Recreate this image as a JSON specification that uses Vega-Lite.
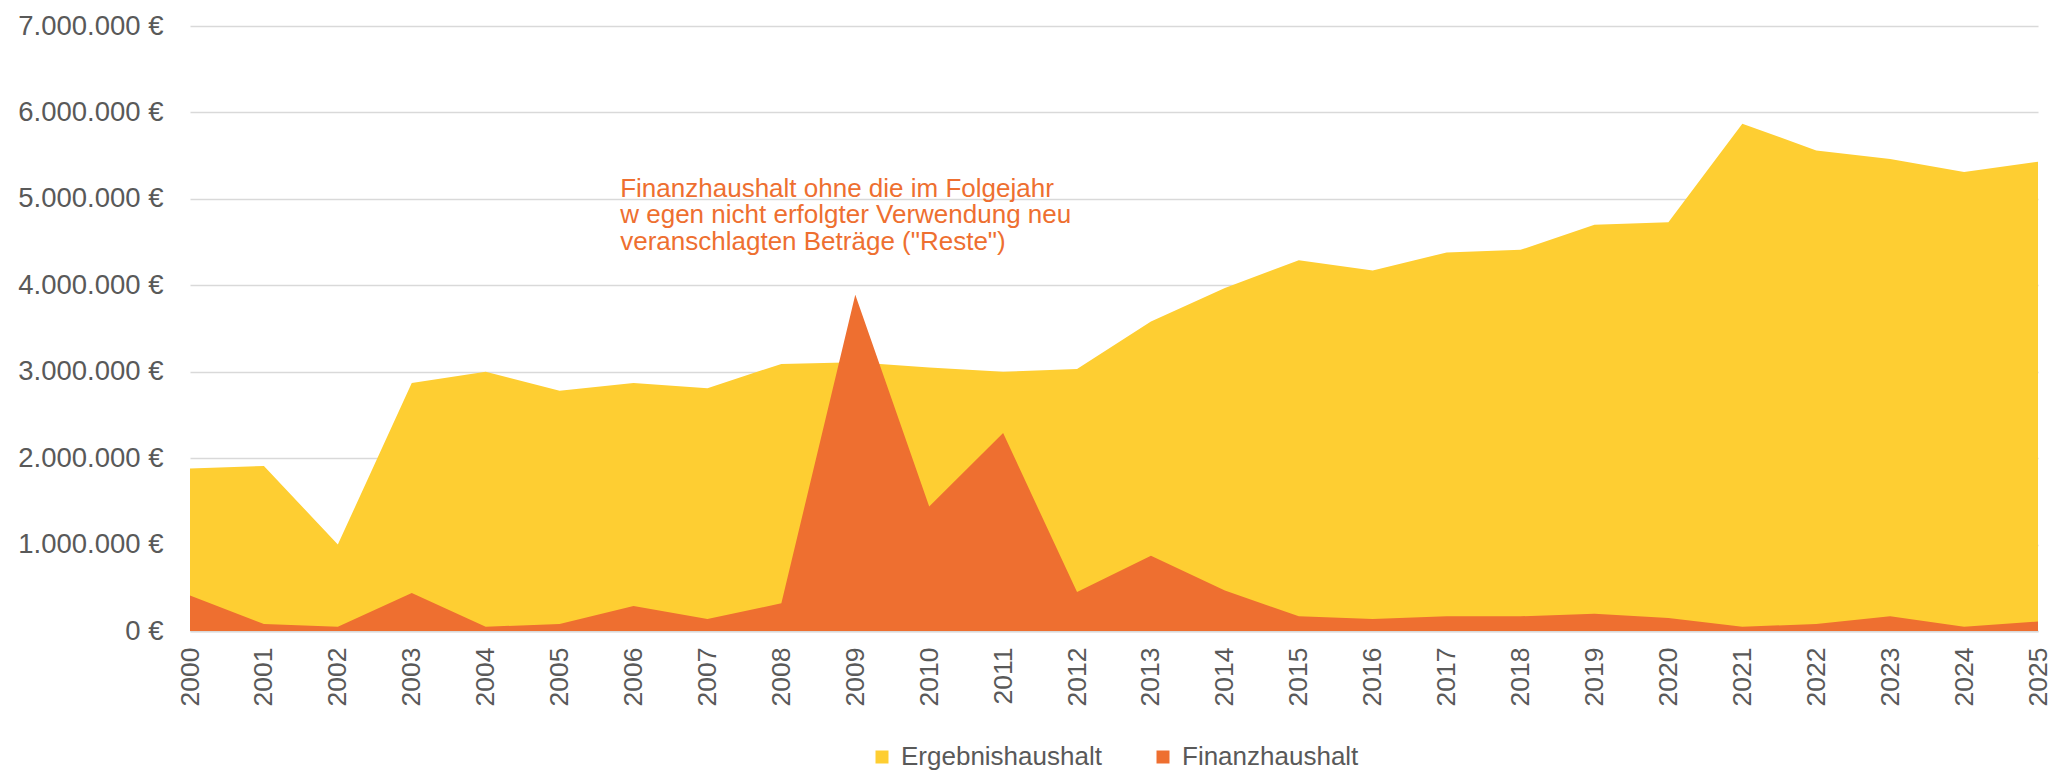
{
  "$schema": "https://vega.github.io/schema/vega-lite/v6.json",
  "width": 2053,
  "height": 770,
  "autosize": {"type": "fit", "contains": "padding"},
  "padding": {"left": 17, "right": 1, "top": 12, "bottom": 64},
  "background": "white",
  "config": {
    "locale": {"number": {"decimal": ",", "thousands": ".", "grouping": [3], "currency": ["", " €"]}},
    "font": "Liberation Sans",
    "view": {"stroke": null}
  },
  "datasets": {
    "main": [
      {"year": 2000, "series": "Ergebnishaushalt", "value": 1880000},
      {"year": 2001, "series": "Ergebnishaushalt", "value": 1910000},
      {"year": 2002, "series": "Ergebnishaushalt", "value": 1000000},
      {"year": 2003, "series": "Ergebnishaushalt", "value": 2870000},
      {"year": 2004, "series": "Ergebnishaushalt", "value": 3000000},
      {"year": 2005, "series": "Ergebnishaushalt", "value": 2780000},
      {"year": 2006, "series": "Ergebnishaushalt", "value": 2870000},
      {"year": 2007, "series": "Ergebnishaushalt", "value": 2810000},
      {"year": 2008, "series": "Ergebnishaushalt", "value": 3090000},
      {"year": 2009, "series": "Ergebnishaushalt", "value": 3110000},
      {"year": 2010, "series": "Ergebnishaushalt", "value": 3050000},
      {"year": 2011, "series": "Ergebnishaushalt", "value": 3000000},
      {"year": 2012, "series": "Ergebnishaushalt", "value": 3030000},
      {"year": 2013, "series": "Ergebnishaushalt", "value": 3580000},
      {"year": 2014, "series": "Ergebnishaushalt", "value": 3970000},
      {"year": 2015, "series": "Ergebnishaushalt", "value": 4290000},
      {"year": 2016, "series": "Ergebnishaushalt", "value": 4170000},
      {"year": 2017, "series": "Ergebnishaushalt", "value": 4380000},
      {"year": 2018, "series": "Ergebnishaushalt", "value": 4410000},
      {"year": 2019, "series": "Ergebnishaushalt", "value": 4700000},
      {"year": 2020, "series": "Ergebnishaushalt", "value": 4730000},
      {"year": 2021, "series": "Ergebnishaushalt", "value": 5870000},
      {"year": 2022, "series": "Ergebnishaushalt", "value": 5560000},
      {"year": 2023, "series": "Ergebnishaushalt", "value": 5460000},
      {"year": 2024, "series": "Ergebnishaushalt", "value": 5310000},
      {"year": 2025, "series": "Ergebnishaushalt", "value": 5430000},
      {"year": 2000, "series": "Finanzhaushalt", "value": 410000},
      {"year": 2001, "series": "Finanzhaushalt", "value": 80000},
      {"year": 2002, "series": "Finanzhaushalt", "value": 50000},
      {"year": 2003, "series": "Finanzhaushalt", "value": 440000},
      {"year": 2004, "series": "Finanzhaushalt", "value": 50000},
      {"year": 2005, "series": "Finanzhaushalt", "value": 80000},
      {"year": 2006, "series": "Finanzhaushalt", "value": 290000},
      {"year": 2007, "series": "Finanzhaushalt", "value": 140000},
      {"year": 2008, "series": "Finanzhaushalt", "value": 320000},
      {"year": 2009, "series": "Finanzhaushalt", "value": 3890000},
      {"year": 2010, "series": "Finanzhaushalt", "value": 1440000},
      {"year": 2011, "series": "Finanzhaushalt", "value": 2290000},
      {"year": 2012, "series": "Finanzhaushalt", "value": 450000},
      {"year": 2013, "series": "Finanzhaushalt", "value": 870000},
      {"year": 2014, "series": "Finanzhaushalt", "value": 470000},
      {"year": 2015, "series": "Finanzhaushalt", "value": 170000},
      {"year": 2016, "series": "Finanzhaushalt", "value": 140000},
      {"year": 2017, "series": "Finanzhaushalt", "value": 170000},
      {"year": 2018, "series": "Finanzhaushalt", "value": 170000},
      {"year": 2019, "series": "Finanzhaushalt", "value": 200000},
      {"year": 2020, "series": "Finanzhaushalt", "value": 150000},
      {"year": 2021, "series": "Finanzhaushalt", "value": 50000},
      {"year": 2022, "series": "Finanzhaushalt", "value": 80000},
      {"year": 2023, "series": "Finanzhaushalt", "value": 170000},
      {"year": 2024, "series": "Finanzhaushalt", "value": 50000},
      {"year": 2025, "series": "Finanzhaushalt", "value": 110000}
    ],
    "note": [
      {"year": 2005.82, "value": 5265000, "label": "Finanzhaushalt ohne die im Folgejahr\nw egen nicht erfolgter Verwendung neu\nveranschlagten Beträge (\"Reste\")"}
    ]
  },
  "layer": [
    {
      "data": {"name": "main"},
      "mark": {"type": "area", "interpolate": "linear", "opacity": 1},
      "encoding": {
        "x": {
          "field": "year", "type": "quantitative",
          "scale": {"domain": [2000, 2025], "nice": false, "zero": false},
          "axis": {
            "title": null, "format": "d",
            "values": [2000,2001,2002,2003,2004,2005,2006,2007,2008,2009,2010,2011,2012,2013,2014,2015,2016,2017,2018,2019,2020,2021,2022,2023,2024,2025],
            "labelAngle": -90, "labelAlign": "right", "labelBaseline": "middle",
            "labelFontSize": 26.5, "labelColor": "#595959", "labelPadding": 16,
            "ticks": false, "grid": false, "domainColor": "#D9D9D9", "domainWidth": 2,
            "labelOverlap": false, "labelFlush": false
          }
        },
        "y": {
          "field": "value", "type": "quantitative", "stack": null,
          "scale": {"domain": [0, 7000000], "nice": false},
          "axis": {
            "title": null, "format": "$,.0f",
            "values": [0,1000000,2000000,3000000,4000000,5000000,6000000,7000000],
            "labelFontSize": 27.5, "labelColor": "#595959", "labelPadding": 27,
            "ticks": false, "domain": false, "gridColor": "#D9D9D9", "gridWidth": 1.5
          }
        },
        "color": {
          "field": "series", "type": "nominal",
          "scale": {"domain": ["Ergebnishaushalt", "Finanzhaushalt"], "range": ["#FECE32", "#EE6F30"]},
          "legend": {
            "title": null, "orient": "none", "direction": "horizontal",
            "legendX": 679, "legendY": 718,
            "symbolType": "square", "symbolSize": 169, "symbolStrokeWidth": 0,
            "labelFontSize": 26, "labelColor": "#595959", "labelLimit": 0,
            "labelOffset": 6, "columnPadding": 48
          }
        },
        "order": {"field": "series", "sort": "ascending"}
      }
    },
    {
      "data": {"name": "note"},
      "mark": {"type": "text", "align": "left", "baseline": "top", "lineBreak": "\n", "fontSize": 26, "lineHeight": 26.5, "color": "#EE6F30"},
      "encoding": {
        "x": {"field": "year", "type": "quantitative"},
        "y": {"field": "value", "type": "quantitative"},
        "text": {"field": "label"}
      }
    }
  ]
}
